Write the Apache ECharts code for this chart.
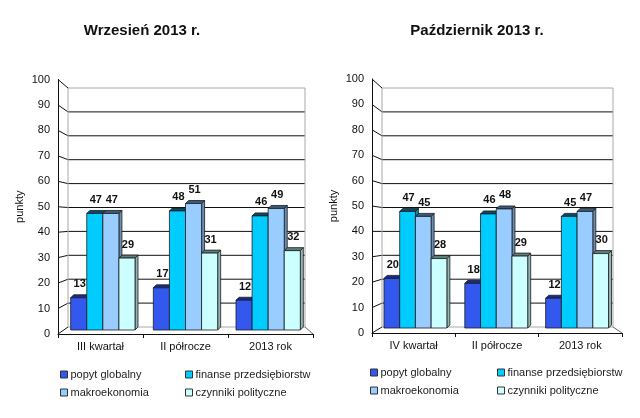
<!DOCTYPE html>
<html>
<head>
<meta charset="utf-8">
<script src="https://cdn.jsdelivr.net/npm/echarts@6/dist/echarts.min.js"></script>
<style>
html,body{margin:0;padding:0;background:#fff;}
#chart{width:640px;height:418px;}
</style>
</head>
<body>
<div id="chart"></div>
<script>
// ---- data ----
const titleSep = 'Wrzesień 2013 r.';
const titleOct = 'Październik 2013 r.';
const catsSep = ['III kwartał', 'II półrocze', '2013 rok'];
const catsOct = ['IV kwartał', 'II półrocze', '2013 rok'];
const seriesNames = ['popyt globalny', 'finanse przedsiębiorstw', 'makroekonomia', 'czynniki polityczne'];
const popytSep = [13, 17, 12];
const finanseSep = [47, 48, 46];
const makroSep = [47, 51, 49];
const czynnikiSep = [29, 31, 32];
const popytOct = [20, 18, 12];
const finanseOct = [47, 46, 45];
const makroOct = [45, 48, 47];
const czynnikiOct = [28, 29, 30];
const yTicks = [0, 10, 20, 30, 40, 50, 60, 70, 80, 90, 100];
const yAxisName = 'punkty';

// ---- styles ----
const FONT = "'Liberation Sans', Arial, sans-serif";
const faceColors = ['#3358ee', '#00ccff', '#99ccff', '#ccffff'];
const topColors = ['#1a2a8c', '#0b4a6a', '#3d5a7a', '#5f7f7f'];
const sideColors = ['#1f3399', '#0090b8', '#6a8db3', '#93b5b5'];
const DEPTH = 3;

// layout per panel
const panels = [
  {
    cats: catsSep, title: titleSep, titleX: 142,
    values: [popytSep, finanseSep, makroSep, czynnikiSep],
    front: {left: 58, top: 79.5, right: 313, bottom: 334},
    back: {left: 68, top: 88, right: 305, bottom: 327},
    bars: {left: 61.5, top: 82, right: 309.5, bottom: 330},
    legend: {x1: 60, x2: 185, top: 369}
  },
  {
    cats: catsOct, title: titleOct, titleX: 477,
    values: [popytOct, finanseOct, makroOct, czynnikiOct],
    front: {left: 372, top: 79, right: 622, bottom: 333},
    back: {left: 382, top: 88, right: 613, bottom: 327},
    bars: {left: 375, top: 80, right: 617.5, bottom: 328},
    legend: {x1: 370, x2: 497, top: 367}
  }
];

function gridOf(r) {
  return {left: r.left, top: r.top, width: r.right - r.left, height: r.bottom - r.top, containLabel: false};
}

const grids = [], xAxes = [], yAxes = [], series = [], legends = [], graphics = [];

panels.forEach(function (P, pi) {
  const g0 = grids.length;
  grids.push(gridOf(P.front), gridOf(P.back), gridOf(P.bars));
  // front axes
  xAxes.push({
    gridIndex: g0, type: 'category', data: P.cats,
    axisLine: {lineStyle: {color: '#111', width: 1}},
    axisTick: {show: true, length: 4, lineStyle: {color: '#111'}},
    axisLabel: {color: '#111', fontSize: 11, fontFamily: FONT, margin: 7},
    splitLine: {show: false}
  });
  yAxes.push({
    gridIndex: g0, type: 'value', min: 0, max: 100, interval: 10,
    name: yAxisName, nameLocation: 'middle', nameRotate: 90, nameGap: 33,
    nameTextStyle: {color: '#111', fontSize: 11, fontFamily: FONT},
    axisLine: {show: true, lineStyle: {color: '#111', width: 1}},
    axisTick: {show: false},
    axisLabel: {color: '#111', fontSize: 11, fontFamily: FONT, margin: 8},
    splitLine: {show: false}
  });
  // back wall axes
  xAxes.push({gridIndex: g0 + 1, type: 'category', data: P.cats, show: false});
  yAxes.push({gridIndex: g0 + 1, type: 'value', min: 0, max: 100, interval: 10, show: false, splitLine: {show: false}});
  // bar axes
  xAxes.push({gridIndex: g0 + 2, type: 'category', data: P.cats, show: false});
  yAxes.push({gridIndex: g0 + 2, type: 'value', min: 0, max: 100, interval: 10, show: false, splitLine: {show: false}});

  const F = P.front;
  // decoration: back wall grid lines, diagonal ticks, floor, walls
  series.push({
    type: 'custom', xAxisIndex: g0 + 1, yAxisIndex: g0 + 1, z: 1, silent: true,
    data: yTicks.map(function (v) { return [0, v]; }),
    renderItem: function (params, api) {
      const v = api.value(1);
      const cs = params.coordSys;
      const by = api.coord([0, v])[1];
      const fy = F.bottom - v / 100 * (F.bottom - F.top);
      const bx0 = cs.x, bx1 = cs.x + cs.width, bBottom = cs.y + cs.height;
      const grey = '#a8a8a8';
      const edge = (v === 0 || v === 100);
      const ch = [];
      ch.push({type: 'line', shape: {x1: bx0, y1: by, x2: bx1, y2: by}, style: {stroke: edge ? grey : '#111', lineWidth: 1}});
      ch.push({type: 'line', shape: {x1: F.left, y1: fy, x2: bx0, y2: by}, style: {stroke: '#111', lineWidth: 1}});
      if (v === 100) {
        ch.push({type: 'line', shape: {x1: bx0, y1: by, x2: bx0, y2: bBottom}, style: {stroke: grey, lineWidth: 1}});
        ch.push({type: 'line', shape: {x1: bx1, y1: by, x2: bx1, y2: bBottom}, style: {stroke: grey, lineWidth: 1}});
      }
      if (v === 0) {
        ch.push({type: 'line', shape: {x1: F.right, y1: F.bottom, x2: bx1, y2: by}, style: {stroke: '#666', lineWidth: 1}});
      }
      return {type: 'group', children: ch};
    }
  });

  // bars
  P.values.forEach(function (vals, si) {
    series.push({
      type: 'custom', name: seriesNames[si], xAxisIndex: g0 + 2, yAxisIndex: g0 + 2, z: 3,
      itemStyle: {color: faceColors[si], borderColor: '#222', borderWidth: 1},
      data: vals.map(function (v, ci) { return [ci, v]; }),
      renderItem: function (params, api) {
        const ci = api.value(0), v = api.value(1);
        const top = api.coord([ci, v]);
        const base = api.coord([ci, 0]);
        const band = api.size([1, 0])[0];
        const w = band * 0.1945;
        const x0 = top[0] - 2 * w + si * w;
        const y1 = top[1], yb = base[1];
        const d = DEPTH;
        const stroke = '#1c1c1c';
        return {
          type: 'group',
          children: [
            {type: 'polygon', shape: {points: [[x0 + w, y1], [x0 + w + d, y1 - d], [x0 + w + d, yb - d], [x0 + w, yb]]},
              style: {fill: sideColors[si], stroke: stroke, lineWidth: 0.8}},
            {type: 'polygon', shape: {points: [[x0, y1], [x0 + d, y1 - d], [x0 + w + d, y1 - d], [x0 + w, y1]]},
              style: {fill: topColors[si], stroke: stroke, lineWidth: 0.8}},
            {type: 'rect', shape: {x: x0, y: y1, width: w, height: yb - y1},
              style: {fill: faceColors[si], stroke: stroke, lineWidth: 0.8}},
            {type: 'text', x: x0 + w / 2 + 1, y: y1 - d - 5,
              style: {text: String(v), fill: '#111', font: 'bold 11px ' + FONT, textAlign: 'center', textVerticalAlign: 'bottom'}}
          ]
        };
      }
    });
  });

  // legends (two columns)
  function legendData(idxs) {
    return idxs.map(function (i) {
      return {name: seriesNames[i], icon: 'rect', itemStyle: {color: faceColors[i], borderColor: '#333', borderWidth: 1}};
    });
  }
  [[0, 2, P.legend.x1], [1, 3, P.legend.x2]].forEach(function (c) {
    legends.push({
      orient: 'vertical', left: c[2], top: P.legend.top, padding: 0,
      itemWidth: 7, itemHeight: 7, itemGap: 7, selectedMode: false,
      textStyle: {color: '#222', fontSize: 11, fontFamily: FONT, padding: [0, 0, 0, -2]},
      data: legendData([c[0], c[1]])
    });
  });

  graphics.push({
    type: 'text', x: P.titleX, y: 31,
    style: {text: P.title, fill: '#111', font: 'bold 15px ' + FONT, textAlign: 'center', textVerticalAlign: 'middle'}
  });
});

const chart = echarts.init(document.getElementById('chart'), null, {renderer: 'canvas'});
chart.setOption({
  animation: false,
  backgroundColor: '#fff',
  grid: grids,
  xAxis: xAxes,
  yAxis: yAxes,
  legend: legends,
  graphic: graphics,
  series: series
});
</script>
</body>
</html>
